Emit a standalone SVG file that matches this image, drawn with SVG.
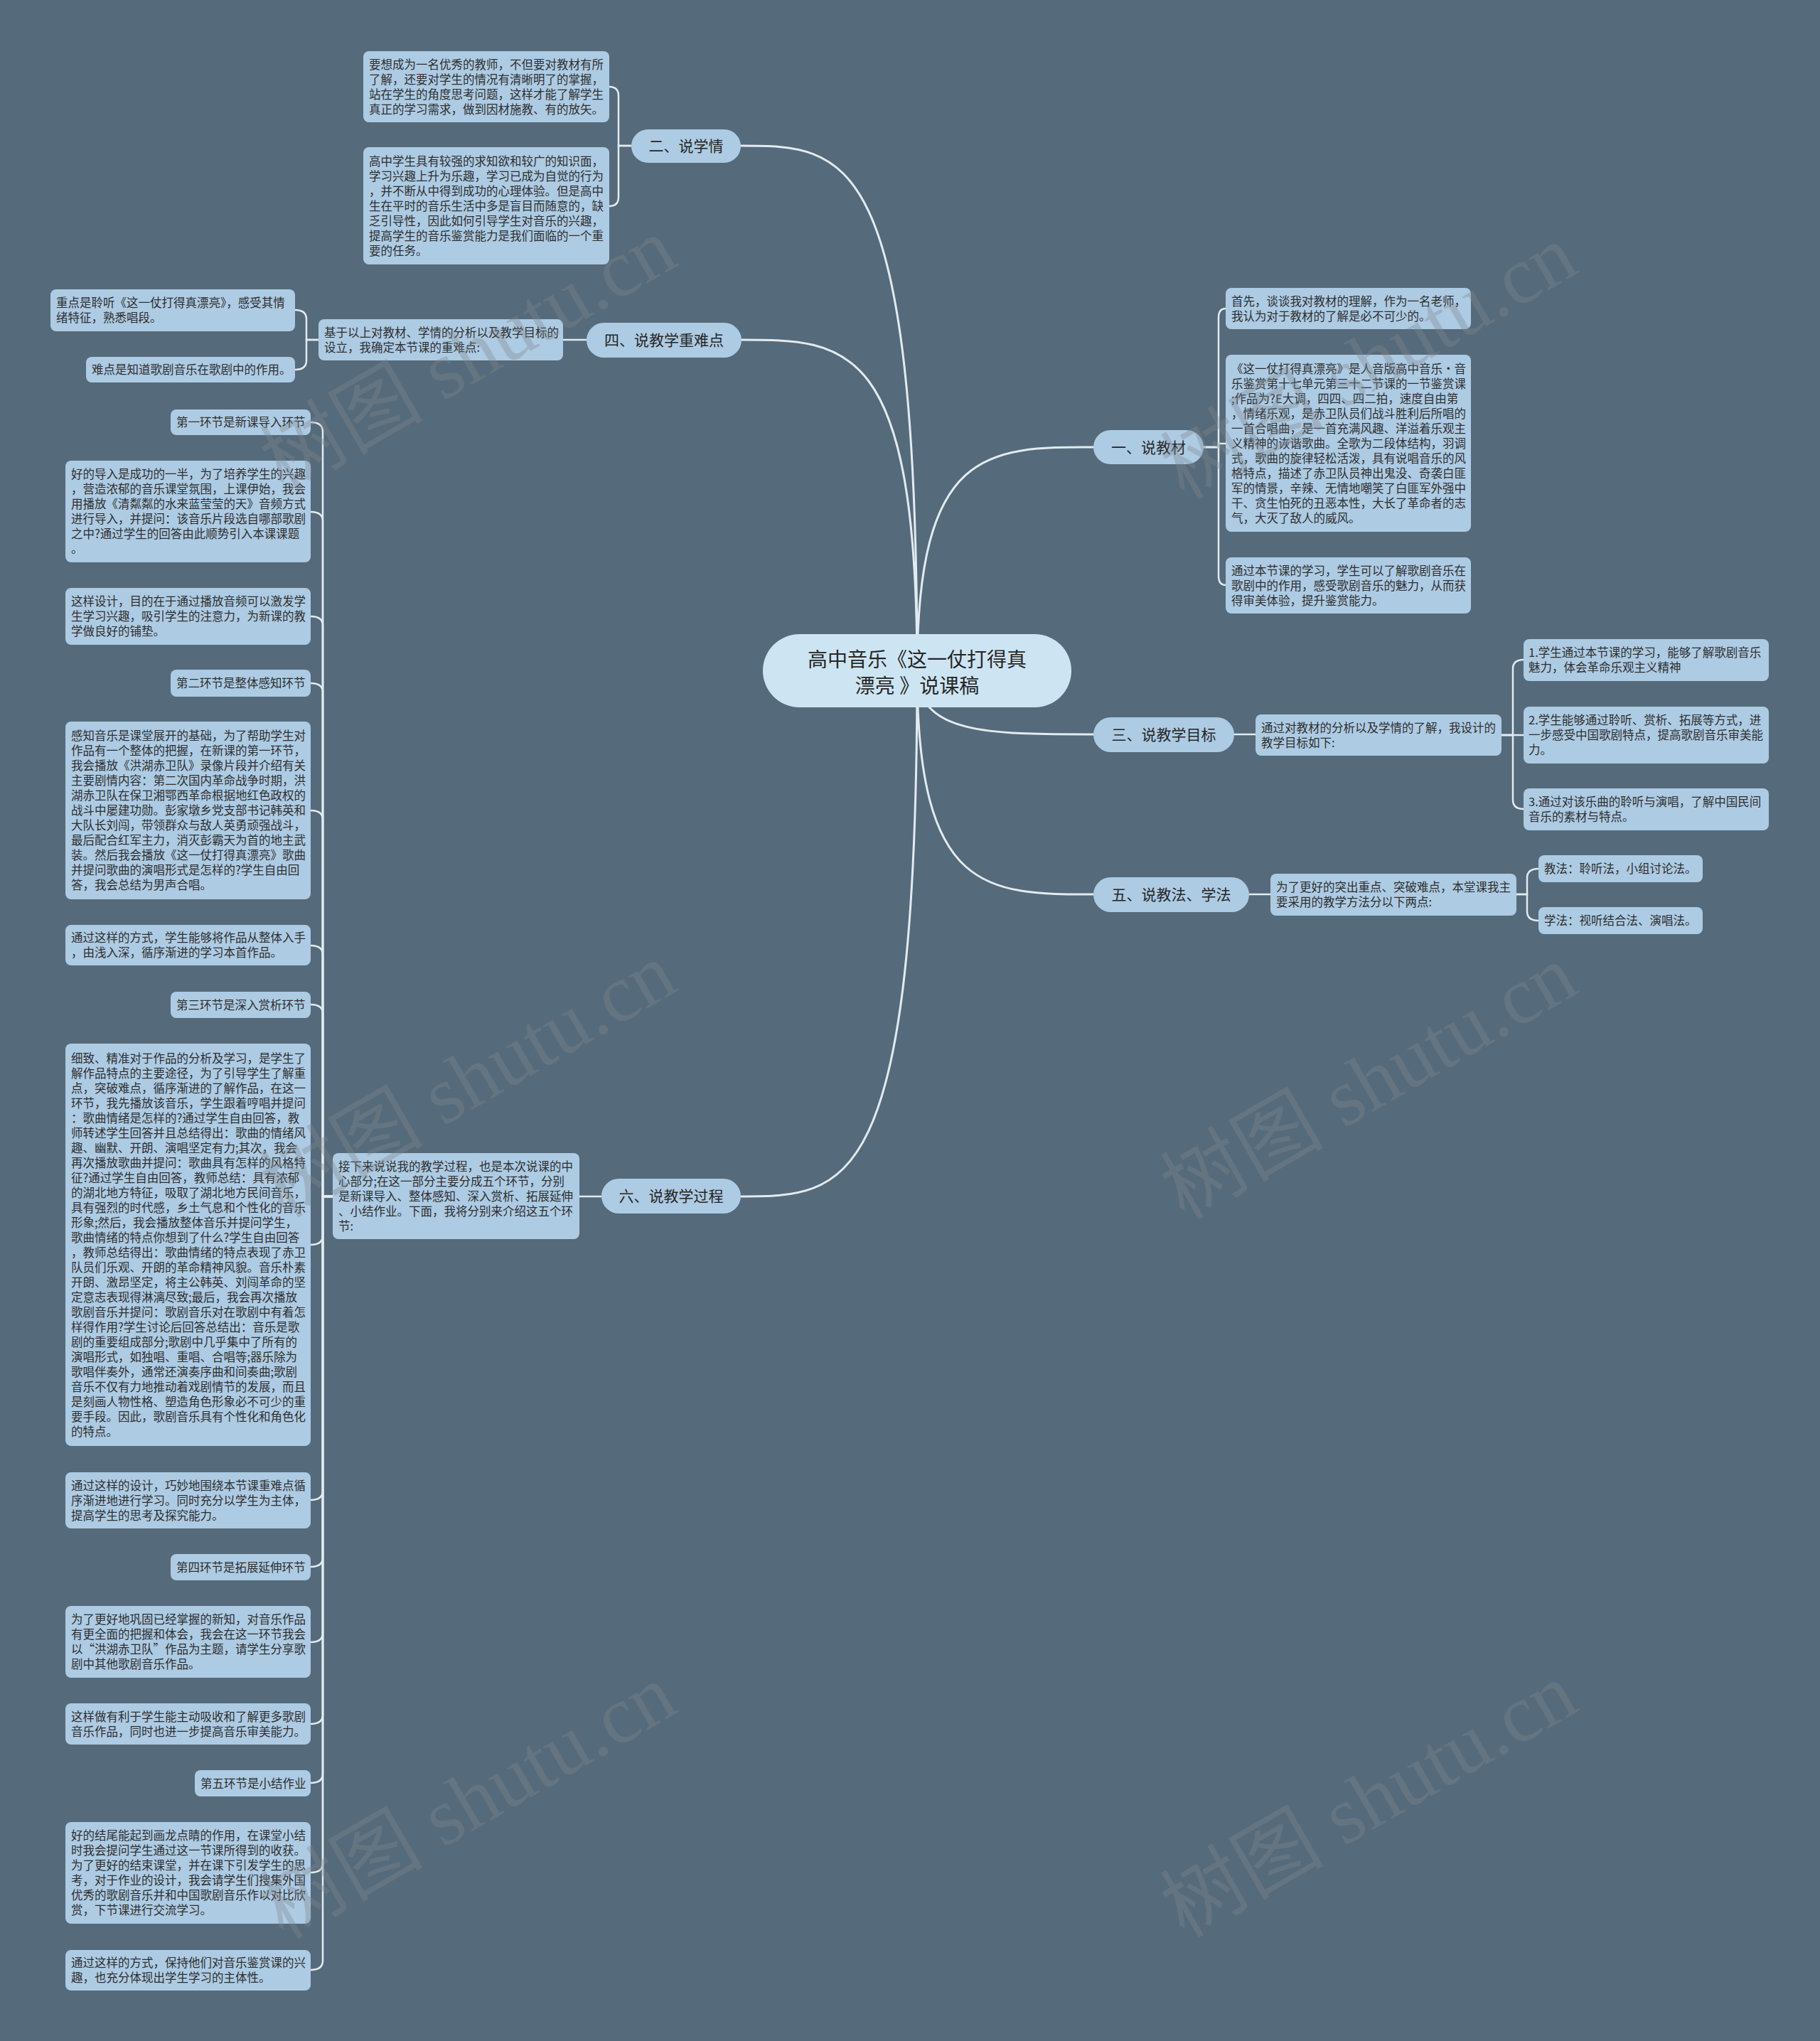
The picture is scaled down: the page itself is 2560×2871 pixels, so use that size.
<svg xmlns="http://www.w3.org/2000/svg" width="2560" height="2871" viewBox="0 0 2560 2871">
<style>
.bg{fill:#556a7a}
.box{fill:#adcbe3}
.root{fill:#cde5f2}
.t{font-family:"Noto Sans CJK SC","Noto Sans",sans-serif;font-size:16.5px;fill:#2e2e2e}
.mt{font-family:"Noto Sans CJK SC","Noto Sans",sans-serif;font-size:21px;fill:#262626;text-anchor:middle}
.rt{font-family:"Noto Sans CJK SC","Noto Sans",sans-serif;font-size:28px;fill:#262626;text-anchor:middle}
.ln{fill:none;stroke:#e2ebf0;stroke-width:3;stroke-linecap:round}
.br{fill:none;stroke:#e2ebf0;stroke-width:2.5;stroke-linecap:round}
.wm{font-family:"Liberation Serif","Noto Sans CJK SC",serif;font-size:115px;fill:#80888f;opacity:0.35;text-anchor:middle}
</style>
<rect class="bg" x="0" y="0" width="2560" height="2871"/>

<g id="connectors">
  <path class="ln" d="M1290 944 C1290 205 1191 205 1042 205"/>
  <path class="ln" d="M1290 944 C1290 478 1191 478 1043 478"/>
  <path class="ln" d="M1290 944 C1290 629 1389 629 1538 629"/>
  <path class="ln" d="M1290 944 C1290 1033 1389 1033 1538 1033"/>
  <path class="ln" d="M1290 944 C1290 1258 1389 1258 1538 1258"/>
  <path class="ln" d="M1290 944 C1290 1683 1191 1683 1042 1683"/>
  <path class="br" d="M888 205 H870 V135 Q870 122 857 122"/>
  <path class="br" d="M888 205 H870 V277 Q870 290 857 290"/>
  <path class="br" d="M825 478 H792"/>
  <path class="br" d="M448 478 H431 V449 Q431 436 415 436"/>
  <path class="br" d="M448 478 H431 V507 Q431 520 415 520"/>
  <path class="br" d="M1693 629 H1714 V447 Q1714 434 1724 434"/>
  <path class="br" d="M1693 629 H1714 V624 H1724"/>
  <path class="br" d="M1693 629 H1714 V810 Q1714 823 1724 823"/>
  <path class="br" d="M1736 1033 H1766"/>
  <path class="br" d="M2112 1034 H2128 V941 Q2128 928 2143 928"/>
  <path class="br" d="M2112 1034 H2143"/>
  <path class="br" d="M2112 1034 H2128 V1125 Q2128 1138 2143 1138"/>
  <path class="br" d="M1757 1258 H1787"/>
  <path class="br" d="M2133 1258 H2148 V1235 Q2148 1222 2164 1222"/>
  <path class="br" d="M2133 1258 H2148 V1282 Q2148 1295 2164 1295"/>
  <path class="br" d="M846 1683 H815"/>
  <path class="br" d="M468 1683 H454 V607 Q454 594 437 594"/>
  <path class="br" d="M468 1683 H454 V733 Q454 720 437 720"/>
  <path class="br" d="M468 1683 H454 V880 Q454 867 437 867"/>
  <path class="br" d="M468 1683 H454 V974 Q454 961 437 961"/>
  <path class="br" d="M468 1683 H454 V1153 Q454 1140 437 1140"/>
  <path class="br" d="M468 1683 H454 V1343 Q454 1330 437 1330"/>
  <path class="br" d="M468 1683 H454 V1426 Q454 1413 437 1413"/>
  <path class="br" d="M468 1683 H454 V1738 Q454 1751 437 1751"/>
  <path class="br" d="M468 1683 H454 V2097 Q454 2110 437 2110"/>
  <path class="br" d="M468 1683 H454 V2191 Q454 2204 437 2204"/>
  <path class="br" d="M468 1683 H454 V2297 Q454 2310 437 2310"/>
  <path class="br" d="M468 1683 H454 V2412 Q454 2425 437 2425"/>
  <path class="br" d="M468 1683 H454 V2495 Q454 2508 437 2508"/>
  <path class="br" d="M468 1683 H454 V2621 Q454 2634 437 2634"/>
  <path class="br" d="M468 1683 H454 V2758 Q454 2771 437 2771"/>
</g>

<g id="root">
  <rect class="root" x="1073" y="892" width="434" height="103" rx="51.5"/>
  <text class="rt" x="1290" y="938">高中音乐《这一仗打得真</text>
  <text class="rt" x="1290" y="975">漂亮 》说课稿</text>
</g>

<g id="n2">
  <rect class="box" x="888" y="182" width="154" height="47" rx="23.5"/>
  <text class="mt" x="965" y="212.5">二、说学情</text>
</g>
<g id="n2a">
  <rect class="box" x="511" y="72" width="346" height="100" rx="8"/>
  <text class="t" x="519" y="96.5"><tspan x="519">要想成为一名优秀的教师，不但要对教材有所</tspan><tspan x="519" dy="21">了解，还要对学生的情况有清晰明了的掌握，</tspan><tspan x="519" dy="21">站在学生的角度思考问题，这样才能了解学生</tspan><tspan x="519" dy="21">真正的学习需求，做到因材施教、有的放矢。</tspan></text>
</g>
<g id="n2b">
  <rect class="box" x="511" y="207" width="346" height="165" rx="8"/>
  <text class="t" x="519" y="232.5"><tspan x="519">高中学生具有较强的求知欲和较广的知识面，</tspan><tspan x="519" dy="21">学习兴趣上升为乐趣，学习已成为自觉的行为</tspan><tspan x="519" dy="21">，并不断从中得到成功的心理体验。但是高中</tspan><tspan x="519" dy="21">生在平时的音乐生活中多是盲目而随意的，缺</tspan><tspan x="519" dy="21">乏引导性，因此如何引导学生对音乐的兴趣，</tspan><tspan x="519" dy="21">提高学生的音乐鉴赏能力是我们面临的一个重</tspan><tspan x="519" dy="21">要的任务。</tspan></text>
</g>

<g id="n4">
  <rect class="box" x="825" y="454" width="218" height="49" rx="24.5"/>
  <text class="mt" x="934" y="485.5">四、说教学重难点</text>
</g>
<g id="n4m">
  <rect class="box" x="448" y="449" width="344" height="58" rx="8"/>
  <text class="t" x="456" y="473.5"><tspan x="456">基于以上对教材、学情的分析以及教学目标的</tspan><tspan x="456" dy="21">设立，我确定本节课的重难点:</tspan></text>
</g>
<g id="n4a">
  <rect class="box" x="71" y="407" width="344" height="59" rx="8"/>
  <text class="t" x="79" y="432"><tspan x="79">重点是聆听《这一仗打得真漂亮》，感受其情</tspan><tspan x="79" dy="21">绪特征，熟悉唱段。</tspan></text>
</g>
<g id="n4b">
  <rect class="box" x="121" y="502" width="294" height="36" rx="8"/>
  <text class="t" x="129" y="526">难点是知道歌剧音乐在歌剧中的作用。</text>
</g>

<g id="n1">
  <rect class="box" x="1538" y="605" width="155" height="48" rx="24"/>
  <text class="mt" x="1615.5" y="636.5">一、说教材</text>
</g>
<g id="n1a">
  <rect class="box" x="1724" y="405" width="345" height="58" rx="8"/>
  <text class="t" x="1732" y="429.5"><tspan x="1732">首先，谈谈我对教材的理解，作为一名老师，</tspan><tspan x="1732" dy="21">我认为对于教材的了解是必不可少的。</tspan></text>
</g>
<g id="n1b">
  <rect class="box" x="1724" y="499" width="345" height="249" rx="8"/>
  <text class="t" x="1732" y="524.5"><tspan x="1732">《这一仗打得真漂亮》是人音版高中音乐·音</tspan><tspan x="1732" dy="21">乐鉴赏第十七单元第三十二节课的一节鉴赏课</tspan><tspan x="1732" dy="21">;作品为?E大调，四四、四二拍，速度自由第</tspan><tspan x="1732" dy="21">，情绪乐观，是赤卫队员们战斗胜利后所唱的</tspan><tspan x="1732" dy="21">一首合唱曲，是一首充满风趣、洋溢着乐观主</tspan><tspan x="1732" dy="21">义精神的诙谐歌曲。全歌为二段体结构，羽调</tspan><tspan x="1732" dy="21">式，歌曲的旋律轻松活泼，具有说唱音乐的风</tspan><tspan x="1732" dy="21">格特点，描述了赤卫队员神出鬼没、奇袭白匪</tspan><tspan x="1732" dy="21">军的情景，辛辣、无情地嘲笑了白匪军外强中</tspan><tspan x="1732" dy="21">干、贪生怕死的丑恶本性，大长了革命者的志</tspan><tspan x="1732" dy="21">气，大灭了敌人的威风。</tspan></text>
</g>
<g id="n1c">
  <rect class="box" x="1724" y="784" width="345" height="79" rx="8"/>
  <text class="t" x="1732" y="808.5"><tspan x="1732">通过本节课的学习，学生可以了解歌剧音乐在</tspan><tspan x="1732" dy="21">歌剧中的作用，感受歌剧音乐的魅力，从而获</tspan><tspan x="1732" dy="21">得审美体验，提升鉴赏能力。</tspan></text>
</g>

<g id="n3">
  <rect class="box" x="1538" y="1009" width="198" height="49" rx="24.5"/>
  <text class="mt" x="1637" y="1041">三、说教学目标</text>
</g>
<g id="n3m">
  <rect class="box" x="1766" y="1005" width="346" height="58" rx="8"/>
  <text class="t" x="1774" y="1029.5"><tspan x="1774">通过对教材的分析以及学情的了解，我设计的</tspan><tspan x="1774" dy="21">教学目标如下:</tspan></text>
</g>
<g id="n3a">
  <rect class="box" x="2143" y="899" width="345" height="59" rx="8"/>
  <text class="t" x="2150" y="923.5"><tspan x="2150">1.学生通过本节课的学习，能够了解歌剧音乐</tspan><tspan x="2150" dy="21">魅力，体会革命乐观主义精神</tspan></text>
</g>
<g id="n3b">
  <rect class="box" x="2143" y="994" width="345" height="80" rx="8"/>
  <text class="t" x="2150" y="1019"><tspan x="2150">2.学生能够通过聆听、赏析、拓展等方式，进</tspan><tspan x="2150" dy="21">一步感受中国歌剧特点，提高歌剧音乐审美能</tspan><tspan x="2150" dy="21">力。</tspan></text>
</g>
<g id="n3c">
  <rect class="box" x="2143" y="1109" width="345" height="59" rx="8"/>
  <text class="t" x="2150" y="1133.5"><tspan x="2150">3.通过对该乐曲的聆听与演唱，了解中国民间</tspan><tspan x="2150" dy="21">音乐的素材与特点。</tspan></text>
</g>

<g id="n5">
  <rect class="box" x="1538" y="1234" width="219" height="49" rx="24.5"/>
  <text class="mt" x="1647.5" y="1266">五、说教法、学法</text>
</g>
<g id="n5m">
  <rect class="box" x="1787" y="1229" width="346" height="59" rx="8"/>
  <text class="t" x="1795" y="1253.5"><tspan x="1795">为了更好的突出重点、突破难点，本堂课我主</tspan><tspan x="1795" dy="21">要采用的教学方法分以下两点:</tspan></text>
</g>
<g id="n5a">
  <rect class="box" x="2164" y="1203" width="231" height="38" rx="8"/>
  <text class="t" x="2172" y="1228">教法：聆听法，小组讨论法。</text>
</g>
<g id="n5b">
  <rect class="box" x="2164" y="1276" width="231" height="38" rx="8"/>
  <text class="t" x="2172" y="1301">学法：视听结合法、演唱法。</text>
</g>

<g id="n6">
  <rect class="box" x="846" y="1658" width="196" height="49" rx="24.5"/>
  <text class="mt" x="944" y="1690">六、说教学过程</text>
</g>
<g id="n6m">
  <rect class="box" x="468" y="1622" width="347" height="121" rx="8"/>
  <text class="t" x="476" y="1646.5"><tspan x="476">接下来说说我的教学过程，也是本次说课的中</tspan><tspan x="476" dy="21">心部分;在这一部分主要分成五个环节，分别</tspan><tspan x="476" dy="21">是新课导入、整体感知、深入赏析、拓展延伸</tspan><tspan x="476" dy="21">、小结作业。下面，我将分别来介绍这五个环</tspan><tspan x="476" dy="21">节:</tspan></text>
</g>

<g id="s1">
  <rect class="box" x="240" y="576" width="197" height="36" rx="8"/>
  <text class="t" x="248" y="600">第一环节是新课导入环节</text>
</g>
<g id="s1a">
  <rect class="box" x="92" y="648" width="345" height="143" rx="8"/>
  <text class="t" x="100" y="673"><tspan x="100">好的导入是成功的一半，为了培养学生的兴趣</tspan><tspan x="100" dy="21">，营造浓郁的音乐课堂氛围，上课伊始，我会</tspan><tspan x="100" dy="21">用播放《清粼粼的水来蓝莹莹的天》音频方式</tspan><tspan x="100" dy="21">进行导入，并提问：该音乐片段选自哪部歌剧</tspan><tspan x="100" dy="21">之中?通过学生的回答由此顺势引入本课课题</tspan><tspan x="100" dy="21">。</tspan></text>
</g>
<g id="s1b">
  <rect class="box" x="92" y="827" width="345" height="80" rx="8"/>
  <text class="t" x="100" y="852"><tspan x="100">这样设计，目的在于通过播放音频可以激发学</tspan><tspan x="100" dy="21">生学习兴趣，吸引学生的注意力，为新课的教</tspan><tspan x="100" dy="21">学做良好的铺垫。</tspan></text>
</g>
<g id="s2">
  <rect class="box" x="240" y="942" width="197" height="38" rx="8"/>
  <text class="t" x="248" y="967">第二环节是整体感知环节</text>
</g>
<g id="s2a">
  <rect class="box" x="92" y="1015" width="345" height="250" rx="8"/>
  <text class="t" x="100" y="1041"><tspan x="100">感知音乐是课堂展开的基础，为了帮助学生对</tspan><tspan x="100" dy="21">作品有一个整体的把握，在新课的第一环节，</tspan><tspan x="100" dy="21">我会播放《洪湖赤卫队》录像片段并介绍有关</tspan><tspan x="100" dy="21">主要剧情内容：第二次国内革命战争时期，洪</tspan><tspan x="100" dy="21">湖赤卫队在保卫湘鄂西革命根据地红色政权的</tspan><tspan x="100" dy="21">战斗中屡建功勋。彭家墩乡党支部书记韩英和</tspan><tspan x="100" dy="21">大队长刘闯，带领群众与敌人英勇顽强战斗，</tspan><tspan x="100" dy="21">最后配合红军主力，消灭彭霸天为首的地主武</tspan><tspan x="100" dy="21">装。然后我会播放《这一仗打得真漂亮》歌曲</tspan><tspan x="100" dy="21">并提问歌曲的演唱形式是怎样的?学生自由回</tspan><tspan x="100" dy="21">答，我会总结为男声合唱。</tspan></text>
</g>
<g id="s2b">
  <rect class="box" x="92" y="1301" width="345" height="57" rx="8"/>
  <text class="t" x="100" y="1325"><tspan x="100">通过这样的方式，学生能够将作品从整体入手</tspan><tspan x="100" dy="21">，由浅入深，循序渐进的学习本首作品。</tspan></text>
</g>
<g id="s3">
  <rect class="box" x="240" y="1395" width="197" height="37" rx="8"/>
  <text class="t" x="248" y="1419.5">第三环节是深入赏析环节</text>
</g>
<g id="s3a">
  <rect class="box" x="92" y="1468" width="345" height="566" rx="8"/>
  <text class="t" x="100" y="1494.5"><tspan x="100">细致、精准对于作品的分析及学习，是学生了</tspan><tspan x="100" dy="21">解作品特点的主要途径，为了引导学生了解重</tspan><tspan x="100" dy="21">点，突破难点，循序渐进的了解作品，在这一</tspan><tspan x="100" dy="21">环节，我先播放该音乐，学生跟着哼唱并提问</tspan><tspan x="100" dy="21">：歌曲情绪是怎样的?通过学生自由回答，教</tspan><tspan x="100" dy="21">师转述学生回答并且总结得出：歌曲的情绪风</tspan><tspan x="100" dy="21">趣、幽默、开朗、演唱坚定有力;其次，我会</tspan><tspan x="100" dy="21">再次播放歌曲并提问：歌曲具有怎样的风格特</tspan><tspan x="100" dy="21">征?通过学生自由回答，教师总结：具有浓郁</tspan><tspan x="100" dy="21">的湖北地方特征，吸取了湖北地方民间音乐，</tspan><tspan x="100" dy="21">具有强烈的时代感，乡土气息和个性化的音乐</tspan><tspan x="100" dy="21">形象;然后，我会播放整体音乐并提问学生，</tspan><tspan x="100" dy="21">歌曲情绪的特点你想到了什么?学生自由回答</tspan><tspan x="100" dy="21">，教师总结得出：歌曲情绪的特点表现了赤卫</tspan><tspan x="100" dy="21">队员们乐观、开朗的革命精神风貌。音乐朴素</tspan><tspan x="100" dy="21">开朗、激昂坚定，将主公韩英、刘闯革命的坚</tspan><tspan x="100" dy="21">定意志表现得淋漓尽致;最后，我会再次播放</tspan><tspan x="100" dy="21">歌剧音乐并提问：歌剧音乐对在歌剧中有着怎</tspan><tspan x="100" dy="21">样得作用?学生讨论后回答总结出：音乐是歌</tspan><tspan x="100" dy="21">剧的重要组成部分;歌剧中几乎集中了所有的</tspan><tspan x="100" dy="21">演唱形式，如独唱、重唱、合唱等;器乐除为</tspan><tspan x="100" dy="21">歌唱伴奏外，通常还演奏序曲和间奏曲;歌剧</tspan><tspan x="100" dy="21">音乐不仅有力地推动着戏剧情节的发展，而且</tspan><tspan x="100" dy="21">是刻画人物性格、塑造角色形象必不可少的重</tspan><tspan x="100" dy="21">要手段。因此，歌剧音乐具有个性化和角色化</tspan><tspan x="100" dy="21">的特点。</tspan></text>
</g>
<g id="s3b">
  <rect class="box" x="92" y="2071" width="345" height="79" rx="8"/>
  <text class="t" x="100" y="2095.5"><tspan x="100">通过这样的设计，巧妙地围绕本节课重难点循</tspan><tspan x="100" dy="21">序渐进地进行学习。同时充分以学生为主体，</tspan><tspan x="100" dy="21">提高学生的思考及探究能力。</tspan></text>
</g>
<g id="s4">
  <rect class="box" x="240" y="2186" width="197" height="37" rx="8"/>
  <text class="t" x="248" y="2210.5">第四环节是拓展延伸环节</text>
</g>
<g id="s4a">
  <rect class="box" x="92" y="2259" width="345" height="101" rx="8"/>
  <text class="t" x="100" y="2284"><tspan x="100">为了更好地巩固已经掌握的新知，对音乐作品</tspan><tspan x="100" dy="21">有更全面的把握和体会，我会在这一环节我会</tspan><tspan x="100" dy="21">以“洪湖赤卫队”作品为主题，请学生分享歌</tspan><tspan x="100" dy="21">剧中其他歌剧音乐作品。</tspan></text>
</g>
<g id="s4b">
  <rect class="box" x="92" y="2396" width="345" height="58" rx="8"/>
  <text class="t" x="100" y="2420.5"><tspan x="100">这样做有利于学生能主动吸收和了解更多歌剧</tspan><tspan x="100" dy="21">音乐作品，同时也进一步提高音乐审美能力。</tspan></text>
</g>
<g id="s5">
  <rect class="box" x="274" y="2490" width="163" height="37" rx="8"/>
  <text class="t" x="282" y="2514.5">第五环节是小结作业</text>
</g>
<g id="s5a">
  <rect class="box" x="92" y="2563" width="345" height="143" rx="8"/>
  <text class="t" x="100" y="2588"><tspan x="100">好的结尾能起到画龙点睛的作用，在课堂小结</tspan><tspan x="100" dy="21">时我会提问学生通过这一节课所得到的收获。</tspan><tspan x="100" dy="21">为了更好的结束课堂，并在课下引发学生的思</tspan><tspan x="100" dy="21">考，对于作业的设计，我会请学生们搜集外国</tspan><tspan x="100" dy="21">优秀的歌剧音乐并和中国歌剧音乐作以对比欣</tspan><tspan x="100" dy="21">赏，下节课进行交流学习。</tspan></text>
</g>
<g id="s5b">
  <rect class="box" x="92" y="2743" width="345" height="57" rx="8"/>
  <text class="t" x="100" y="2767"><tspan x="100">通过这样的方式，保持他们对音乐鉴赏课的兴</tspan><tspan x="100" dy="21">趣，也充分体现出学生学习的主体性。</tspan></text>
</g>

<g id="watermarks">
  <text class="wm" x="659" y="538" transform="rotate(-30 659 500)">树图 shutu.cn</text>
  <text class="wm" x="659" y="1558" transform="rotate(-30 659 1520)">树图 shutu.cn</text>
  <text class="wm" x="659" y="2573" transform="rotate(-30 659 2535)">树图 shutu.cn</text>
  <text class="wm" x="1926" y="548" transform="rotate(-30 1926 510)">树图 shutu.cn</text>
  <text class="wm" x="1926" y="1561" transform="rotate(-30 1926 1523)">树图 shutu.cn</text>
  <text class="wm" x="1926" y="2571" transform="rotate(-30 1926 2533)">树图 shutu.cn</text>
</g>
</svg>
